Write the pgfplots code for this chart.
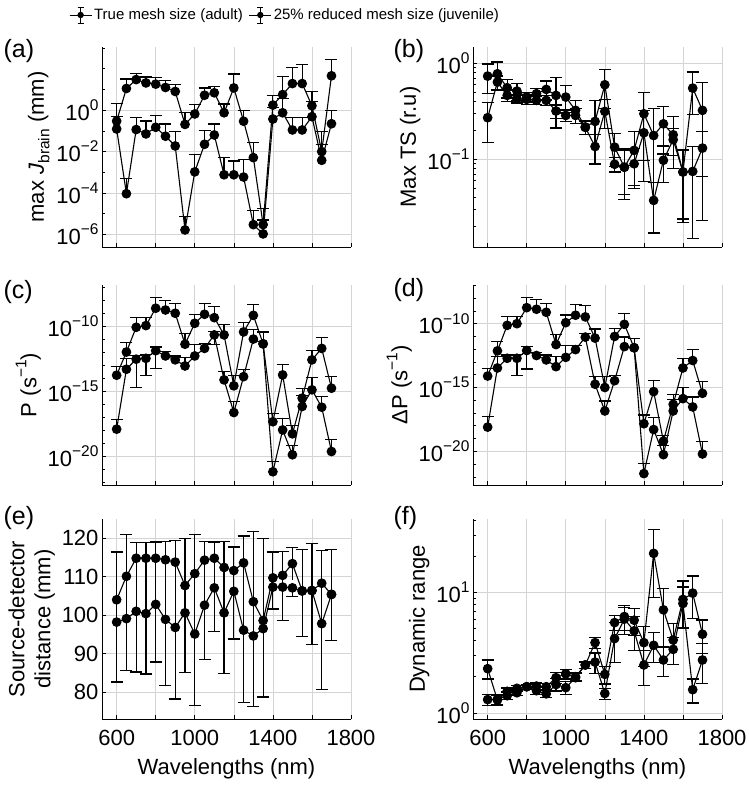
\documentclass[border=0pt]{standalone}
\usepackage{fontspec}
\setmainfont{Liberation Sans}
\usepackage{pgfplots}
\pgfplotsset{compat=1.18}
\usepackage{pgfplotstable}

\definecolor{gridc}{RGB}{212,212,212}
\newcommand{\axf}{\fontsize{22}{26}\selectfont}
\newcommand{\lgf}{\fontsize{15}{18}\selectfont}
\newcommand{\pnf}{\fontsize{25}{29}\selectfont}
\newcommand{\sups}[1]{\raisebox{0.45em}{\fontsize{15.5}{16}\selectfont #1}}
\newcommand{\subs}[1]{\raisebox{-0.25em}{\fontsize{15.5}{16}\selectfont #1}}

% ---------------- (a) max J_brain ----------------
\pgfplotstableread{
x y t
600 0.295 2.0
650 11.0 31.6
700 29.5 57.5
750 20.4 39.8
800 17.8 37
850 12.3 25.7
900 7.9 17
950 0.204 0.78
1000 0.65 1.86
1050 5.2 11.5
1100 6.8 13.2
1150 0.74 1.95
1200 11.7 55
1250 0.29 0.93
1300 0.0051 0.027
1350 3.0e-6 1.8e-5
1400 1.74 5.2
1450 5.6 43
1500 19 112
1550 19 155
1600 1.62 8.1
1650 0.01 0.091
1700 45 263
}\aA
\pgfplotstableread{
x y t
600 0.123 0.48
650 9.3e-5 5.0e-4
700 0.115 0.45
750 0.071 0.295
800 0.148 0.55
850 0.055 0.214
900 0.0186 0.091
950 1.66e-6 7.2e-6
1000 1.05e-3 7.4e-3
1050 0.0224 0.105
1100 0.063 0.214
1150 7.6e-4 5.1e-3
1200 7.6e-4 3.5e-3
1250 5.9e-4 4.0e-3
1300 3.0e-6 1.4e-5
1350 1.07e-6 5.0e-6
1400 0.37 1.38
1450 0.74 3.6
1500 0.11 0.43
1550 0.11 0.43
1600 0.48 2.5
1650 3.8e-3 0.021
1700 0.22 0.93
}\aB
% ---------------- (b) Max TS ----------------
\pgfplotstableread{
x y e
600 0.733 0.245
650 0.775 0.25
700 0.555 0.12
750 0.512 0.10
800 0.444 0.05
850 0.481 0.06
900 0.533 0.12
950 0.462 0.25
1000 0.444 0.14
1050 0.323 0.085
1100 0.217 0.035
1150 0.248 0.16
1200 0.596 0.26
1250 0.134 0.05
1300 0.083 0.045
1350 0.124 0.07
1400 0.298 0.2
1450 0.177 0.16
1500 0.234 0.12
1550 0.180 0.1
1600 0.074 0.052
1650 0.55 0.26
1700 0.323 0.3
}\bA
\pgfplotstableread{
x y e
600 0.271 0.12
650 0.635 0.10
700 0.462 0.06
750 0.426 0.04
800 0.420 0.05
850 0.410 0.04
900 0.410 0.05
950 0.318 0.05
1000 0.286 0.04
1050 0.286 0.05
1100 0.215 0.035
1150 0.136 0.045
1200 0.315 0.105
1250 0.089 0.015
1300 0.083 0.04
1350 0.090 0.04
1400 0.189 0.13
1450 0.0375 0.02
1500 0.098 0.04
1550 0.160 0.05
1600 0.074 0.05
1650 0.075 0.06
1700 0.131 0.065
}\bB
% ---------------- (c) P ----------------
\pgfplotstableread{
x y t
600 1.8e-14 8.3e-14
650 1.1e-12 5.9e-12
700 8.9e-11 4.9e-10
750 1.2e-10 5.2e-10
800 2.6e-9 1.7e-8
850 1.9e-9 1.1e-8
900 1.07e-9 5.9e-9
950 4.4e-12 3.1e-11
1000 1.8e-10 8.9e-10
1050 8.9e-10 5.9e-9
1100 4.9e-10 3.5e-9
1150 2.3e-11 1.4e-10
1200 2.75e-15 1.6e-14
1250 3.9e-11 2.0e-10
1300 7.4e-10 5.2e-9
1350 4.7e-12 3.5e-11
1400 4.7e-18 1.9e-17
1450 1.9e-14 1.26e-13
1500 5.5e-19 2.3e-18
1550 3.1e-16 1.8e-15
1600 2.75e-13 1.4e-12
1650 2.1e-12 1.5e-11
1700 1.8e-15 1.4e-14
}\cA
\pgfplotstableread{
x y t
600 1.26e-18 7.4e-18
650 5.2e-14 3.6e-13
700 3.1e-13 6.2e-13
750 3.6e-13 7.0e-13
800 1.4e-12 2.7e-12
850 5.5e-13 1.26e-12
900 2.75e-13 5.5e-13
950 9.3e-14 4.4e-13
1000 5.5e-13 4.4e-12
1050 2.1e-12 4.7e-12
1100 2.3e-11 4.2e-11
1150 7.9e-15 3.5e-14
1200 2.4e-17 1.7e-16
1250 1.4e-14 5.2e-14
1300 1.1e-11 6.3e-11
1350 4.7e-12 4.1e-11
1400 6.6e-22 4.2e-21
1450 1.1e-18 8.9e-18
1500 1.35e-20 7.1e-20
1550 7.1e-17 4.7e-16
1600 1.35e-15 1.2e-14
1650 6.2e-17 4.2e-16
1700 2.4e-20 2.1e-19
}\cB
% lower error ends of (c) second series where they are visible
\pgfplotstableread{
x y b
700 3.1e-13 2.0e-15
750 3.6e-13 1.6e-14
800 1.4e-12 6.3e-14
1100 2.3e-11 3.9e-12
}\cBlow
% ---------------- (d) Delta P ----------------
\pgfplotstableread{
x y t
600 7.9e-15 3.2e-14
650 7.4e-13 4.1e-12
700 7.4e-11 3.4e-10
750 1.0e-10 3.8e-10
800 1.8e-9 1.1e-8
850 1.35e-9 8.3e-9
900 7.8e-10 3.8e-9
950 2.3e-12 1.5e-11
1000 1.2e-10 4.8e-10
1050 4.6e-10 3.0e-9
1100 3.4e-10 2.5e-9
1150 7.4e-12 3.8e-11
1200 1.0e-15 6.9e-15
1250 1.0e-11 4.1e-11
1300 8.9e-11 6.2e-10
1350 1.3e-12 7.4e-12
1400 1.45e-18 6.9e-18
1450 4.8e-16 3.8e-15
1500 6.2e-20 1.7e-19
1550 4.8e-17 3.0e-16
1600 3.4e-14 1.95e-13
1650 1.3e-13 9.3e-13
1700 3.5e-16 2.8e-15
}\dA
\pgfplotstableread{
x y t
600 7.9e-19 5.1e-18
650 3.4e-14 2.8e-13
700 1.95e-13 3.5e-13
750 1.95e-13 3.8e-13
800 7.9e-13 1.55e-12
850 3.2e-13 5.8e-13
900 1.45e-13 3.5e-13
950 4.3e-14 2.6e-13
1000 2.3e-13 1.95e-12
1050 9.3e-13 1.95e-12
1100 8.9e-12 1.6e-11
1150 1.8e-15 6.9e-15
1200 1.45e-17 8.9e-17
1250 3.4e-15 8.3e-15
1300 1.6e-12 8.9e-12
1350 1.3e-12 7.4e-12
1400 1.8e-22 1.07e-21
1450 5.1e-19 4.3e-18
1500 5.5e-21 3.0e-20
1550 1.45e-17 1.2e-16
1600 1.35e-16 1.0e-15
1650 3.0e-17 1.8e-16
1700 6.2e-21 5.5e-20
}\dB
\pgfplotstableread{
x y b
750 1.95e-13 8.3e-15
800 7.9e-13 2.8e-14
}\dBlow
% ---------------- (e) source-detector distance ----------------
\pgfplotstableread{
x y t b
600 104.0 116.4 98.2
650 110.1 120.9 99.1
700 114.8 118.9 101.0
750 114.8 118.9 100.4
800 114.8 119.0 102.8
850 114.4 119.2 98.9
900 113.8 119.5 96.8
950 107.7 119.9 100.6
1000 110.8 121.0 95.1
1050 114.3 119.1 102.6
1100 114.8 119.0 107.1
1150 112.4 119.2 100.6
1200 111.6 117.7 106.2
1250 113.6 120.6 96.1
1300 103.5 121.8 94.6
1350 98.6 120.0 96.5
1400 109.7 116.4 107.3
1450 110.35 116.6 107.3
1500 113.4 117.6 109.2
1550 106.3 117.1 106.3
1600 106.4 118.7 106.4
1650 108.3 116.9 97.8
1700 105.4 117.1 105.4
}\eA
\pgfplotstableread{
x y b
600 98.2 82.6
650 99.1 85.6
700 101.0 85.2
750 100.4 84.7
800 102.8 87.8
850 98.9 81.7
900 96.8 78.2
950 100.6 85.0
1000 95.1 76.5
1050 102.6 88.4
1100 107.1 95.7
1150 100.6 84.8
1200 106.2 93.8
1250 96.1 77.3
1300 94.6 76.3
1350 96.5 78.7
1400 107.3 101.6
1450 107.3 98.7
1500 107.1 104.8
1550 106.3 94.4
1600 106.4 92.4
1650 97.8 80.6
1700 105.4 93.4
}\eB
% ---------------- (f) dynamic range ----------------
\pgfplotstableread{
x y e
600 2.33 0.42
650 1.28 0.12
700 1.51 0.1
750 1.60 0.08
800 1.65 0.08
850 1.67 0.1
900 1.65 0.1
950 1.96 0.2
1000 2.11 0.2
1050 2.0 0.15
1100 2.5 0.15
1150 3.83 0.4
1200 2.09 0.35
1250 5.62 0.8
1300 6.31 1.5
1350 5.88 1.5
1400 3.83 1.4
1450 21.1 12
1500 7.17 3.6
1550 4.03 1.5
1600 8.75 3.7
1650 9.87 3.8
1700 4.5 1.4
}\fA
\pgfplotstableread{
x y e
600 1.29 0.14
650 1.30 0.12
700 1.39 0.1
750 1.47 0.08
800 1.65 0.08
850 1.53 0.1
900 1.44 0.1
950 1.72 0.2
1000 1.62 0.2
1050 1.96 0.15
1100 2.5 0.15
1150 2.64 0.5
1200 1.45 0.15
1250 4.14 1.5
1300 6.0 1.5
1350 4.8 1.5
1400 2.5 0.8
1450 3.64 1.0
1500 2.75 0.75
1550 3.37 0.85
1600 8.1 3.0
1650 1.56 0.35
1700 2.75 1.0
}\fB

\pgfplotsset{
  panel/.style={
    scale only axis, width=249pt, height=200pt, anchor=north west,
    xmin=525, xmax=1800, xtick={600,800,1000,1200,1400,1600,1800},
    xticklabels={},
    axis x line*=bottom, axis y line*=left,
    axis line style={black, line width=0.7pt},
    grid=major, major grid style={gridc, line width=0.6pt},
    tick align=inside, major tick length=4pt, minor tick length=2.5pt,
    every tick/.style={black, line width=0.6pt},
    tick label style={font=\axf},
    xticklabel style={yshift=-8pt},
    label style={font=\axf},
    xlabel style={yshift=-6pt},
    clip=false,
  },
  ser/.style={black, line width=1.1pt, mark=*, mark size=4.3pt,
    mark options={solid, fill=black},
    error bars/error bar style={black, line width=1.2pt},
    error bars/error mark options={black, rotate=90, mark size=6pt, line width=1.2pt}},
  lowbar/.style={black, only marks, mark=none, forget plot,
    error bars/error bar style={black, line width=1.2pt},
    error bars/error mark options={black, rotate=90, mark size=6pt, line width=1.2pt}},
  decminor/.style={minor ytick={1e-22,1e-21,1e-19,1e-18,1e-17,1e-16,1e-14,1e-13,1e-12,1e-11,1e-9,1e-8,1e-7}},
}

\begin{document}
\begin{tikzpicture}[font=\axf]
\useasboundingbox (0pt,0pt) rectangle (749pt,-787pt);

% (a)
\begin{axis}[panel, at={(102pt,-47pt)}, ymode=log, ymin=2.5e-7, ymax=1100,
  ytick={1e-6,1e-4,1e-2,1},
  yticklabels={10\sups{−6},10\sups{−4},10\sups{−2},10\sups{0}},
  minor ytick={1e-7,1e-5,1e-3,1e-1,10,100,1000},
  ylabel={max \textit{J}\subs{brain} (mm)},
  legend style={at={(0.735,1.16)}, anchor=center, draw=none, fill=none,
    legend columns=2, font=\lgf, /tikz/every even column/.append style={column sep=4pt}},
  legend cell align=left,
  legend image code/.code={
    \draw[black, line width=1pt] (0pt,0pt) -- (22pt,0pt);
    \draw[black, line width=1pt] (11pt,-8pt) -- (11pt,8pt);
    \draw[black, line width=1pt] (8pt,-8pt) -- (14pt,-8pt);
    \draw[black, line width=1pt] (8pt,8pt) -- (14pt,8pt);
    \fill[black] (11pt,0pt) circle (2.6pt);
  },
]
\addplot[ser, error bars/.cd, y dir=plus, y explicit] table[x=x, y=y, y error plus expr=\thisrow{t}-\thisrow{y}] {\aA};
\addlegendentry{True mesh size (adult)}
\addplot[ser, error bars/.cd, y dir=plus, y explicit] table[x=x, y=y, y error plus expr=\thisrow{t}-\thisrow{y}] {\aB};
\addlegendentry{25\% reduced mesh size (juvenile)}
\end{axis}

% (b)
\begin{axis}[panel, at={(473pt,-47pt)}, ymode=log, ymin=0.0123, ymax=1.47,
  ytick={0.1,1},
  yticklabels={10\sups{−1},10\sups{0}},
  minor ytick={0.02,0.03,0.04,0.05,0.06,0.07,0.08,0.09,0.2,0.3,0.4,0.5,0.6,0.7,0.8,0.9},
  ylabel={Max TS (r.u)},
]
\addplot[ser, error bars/.cd, y dir=both, y explicit] table[x=x, y=y, y error=e] {\bA};
\addplot[ser, error bars/.cd, y dir=both, y explicit] table[x=x, y=y, y error=e] {\bB};
\end{axis}

% (c)
\begin{axis}[panel, at={(102pt,-285pt)}, ymode=log, ymin=6.3e-23, ymax=1.6e-7,
  ytick={1e-20,1e-15,1e-10},
  yticklabels={10\sups{−20},10\sups{−15},10\sups{−10}},
  decminor,
  ylabel={P (s\sups{−1})},
]
\addplot[ser, error bars/.cd, y dir=plus, y explicit] table[x=x, y=y, y error plus expr=\thisrow{t}-\thisrow{y}] {\cA};
\addplot[lowbar, error bars/.cd, y dir=minus, y explicit] table[x=x, y=y, y error minus expr=\thisrow{y}-\thisrow{b}] {\cBlow};
\addplot[ser, error bars/.cd, y dir=plus, y explicit] table[x=x, y=y, y error plus expr=\thisrow{t}-\thisrow{y}] {\cB};
\end{axis}

% (d)
\begin{axis}[panel, at={(473pt,-285pt)}, ymode=log, ymin=2.3e-23, ymax=1.07e-7,
  ytick={1e-20,1e-15,1e-10},
  yticklabels={10\sups{−20},10\sups{−15},10\sups{−10}},
  decminor,
  ylabel={ΔP (s\sups{−1})},
]
\addplot[ser, error bars/.cd, y dir=plus, y explicit] table[x=x, y=y, y error plus expr=\thisrow{t}-\thisrow{y}] {\dA};
\addplot[lowbar, error bars/.cd, y dir=minus, y explicit] table[x=x, y=y, y error minus expr=\thisrow{y}-\thisrow{b}] {\dBlow};
\addplot[ser, error bars/.cd, y dir=plus, y explicit] table[x=x, y=y, y error plus expr=\thisrow{t}-\thisrow{y}] {\dB};
\end{axis}

% (e)
\begin{axis}[panel, at={(102pt,-519pt)}, ymin=73, ymax=125,
  ytick={80,90,100,110,120}, yticklabels={80,90,100,110,120},
  xticklabels={600,{},1000,{},1400,{},1800},
  xlabel={Wavelengths (nm)},
  ylabel={Source-detector\\distance (mm)}, ylabel style={align=center},
]
\addplot[lowbar, error bars/.cd, y dir=minus, y explicit, error mark=none] table[x=x, y=y, y error minus expr=\thisrow{y}-\thisrow{b}] {\eA};
\addplot[ser, error bars/.cd, y dir=plus, y explicit] table[x=x, y=y, y error plus expr=\thisrow{t}-\thisrow{y}] {\eA};
\addplot[ser, error bars/.cd, y dir=minus, y explicit] table[x=x, y=y, y error minus expr=\thisrow{y}-\thisrow{b}] {\eB};
\end{axis}

% (f)
\begin{axis}[panel, at={(473pt,-519pt)}, ymode=log, ymin=0.89, ymax=40.7,
  ytick={1,10},
  yticklabels={10\sups{0},10\sups{1}},
  minor ytick={2,3,4,5,6,7,8,9,20,30,40},
  xticklabels={600,{},1000,{},1400,{},1800},
  xlabel={Wavelengths (nm)},
  ylabel={Dynamic range},
]
\addplot[ser, error bars/.cd, y dir=both, y explicit] table[x=x, y=y, y error=e] {\fA};
\addplot[ser, error bars/.cd, y dir=both, y explicit] table[x=x, y=y, y error=e] {\fB};
\end{axis}

% panel letters
\node[anchor=west, font=\pnf] at (0pt,-51pt) {(a)};
\node[anchor=west, font=\pnf] at (390pt,-51pt) {(b)};
\node[anchor=west, font=\pnf] at (0pt,-292pt) {(c)};
\node[anchor=west, font=\pnf] at (390pt,-290pt) {(d)};
\node[anchor=west, font=\pnf] at (0pt,-518pt) {(e)};
\node[anchor=west, font=\pnf] at (390pt,-518pt) {(f)};
\end{tikzpicture}
\end{document}
